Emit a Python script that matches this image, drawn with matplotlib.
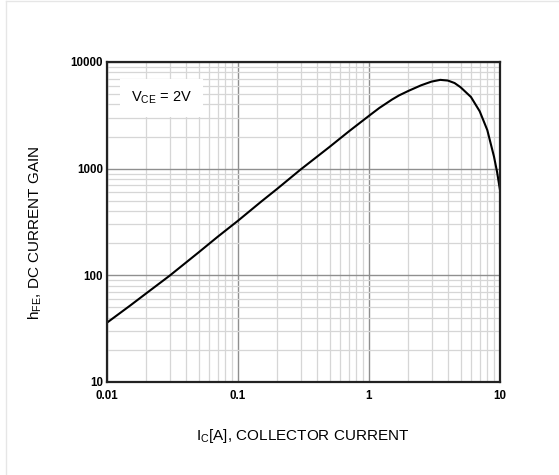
"""
hFE vs collector current (VCE = 2V), log-log datasheet style chart.
"""

import matplotlib
matplotlib.use("Agg")
import matplotlib.pyplot as plt
from matplotlib.lines import Line2D
from matplotlib.ticker import LogLocator, NullFormatter, FixedLocator, FixedFormatter

plt.rcParams['font.family'] = ['Liberation Sans', 'DejaVu Sans']

# collector current [A] and DC current gain
ic = [0.01, 0.015, 0.02, 0.03, 0.05, 0.07, 0.1, 0.15, 0.2, 0.3, 0.5, 0.7,
      1.0, 1.2, 1.5, 1.7, 2.0, 2.5, 3.0, 3.5, 4.0, 4.5, 5.0, 6.0, 7.0, 8.0,
      9.0, 9.5, 10.0]
hfe = [36, 52, 68, 99, 164, 230, 325, 490, 650, 980, 1600, 2230,
       3130, 3710, 4450, 4870, 5360, 6050, 6550, 6800, 6700, 6350, 5800,
       4700, 3450, 2300, 1295, 930, 630]

x_ticks = [0.01, 0.1, 1, 10]
x_tick_labels = ["0.01", "0.1", "1", "10"]
y_ticks = [10, 100, 1000, 10000]
y_tick_labels = ["10", "100", "1000", "10000"]


def main():
    fig = plt.figure(figsize=(5.59, 4.75), dpi=100)
    ax = fig.add_axes([107 / 559, 1 - 382 / 475, 393 / 559, 320 / 475])

    ax.set_xscale("log")
    ax.set_yscale("log")
    ax.set_xlim(0.01, 10)
    ax.set_ylim(10, 10000)

    ax.xaxis.set_major_locator(FixedLocator(x_ticks))
    ax.xaxis.set_major_formatter(FixedFormatter(x_tick_labels))
    ax.yaxis.set_major_locator(FixedLocator(y_ticks))
    ax.yaxis.set_major_formatter(FixedFormatter(y_tick_labels))
    ax.xaxis.set_minor_locator(LogLocator(base=10, subs=range(2, 10), numticks=20))
    ax.yaxis.set_minor_locator(LogLocator(base=10, subs=range(2, 10), numticks=20))
    ax.xaxis.set_minor_formatter(NullFormatter())
    ax.yaxis.set_minor_formatter(NullFormatter())

    ax.grid(True, which="major", color="#8f8f8f", linewidth=1.0)
    ax.grid(True, which="minor", color="#d6d6d6", linewidth=0.9)
    ax.set_axisbelow(True)

    ax.tick_params(which="both", length=0)
    ax.tick_params(axis="x", pad=6, labelsize=8.3)
    ax.tick_params(axis="y", pad=3, labelsize=8.3)
    for lab in ax.get_xticklabels() + ax.get_yticklabels():
        lab.set_fontweight("bold")
    for spine in ax.spines.values():
        spine.set_linewidth(1.6)
        spine.set_color("#222222")

    ax.plot(ic, hfe, color="black", linewidth=1.5, solid_joinstyle="round")

    ax.text(0.026, 4600, r"V$_{\mathregular{CE}}$ = 2V", fontsize=10.5,
            ha="center", va="center",
            bbox=dict(facecolor="white", edgecolor="none", pad=8))

    fig.text(303 / 559, 1 - 436 / 475, r"I$_{\mathregular{C}}$[A], COLLECTOR CURRENT",
             fontsize=11, ha="center", va="center")
    fig.text(35 / 559, 1 - 233 / 475, r"h$_{\mathregular{FE}}$, DC CURRENT GAIN",
             fontsize=11, ha="center", va="center", rotation=90)

    # faint frame edges of the original scan
    fig.add_artist(Line2D([6 / 559, 6 / 559], [0, 1 - 1 / 475],
                          transform=fig.transFigure, color="#e6e6e6", linewidth=1))
    fig.add_artist(Line2D([6 / 559, 1], [1 - 1 / 475, 1 - 1 / 475],
                          transform=fig.transFigure, color="#e6e6e6", linewidth=1))

    fig.savefig("out.png", dpi=100)


if __name__ == "__main__":
    main()
